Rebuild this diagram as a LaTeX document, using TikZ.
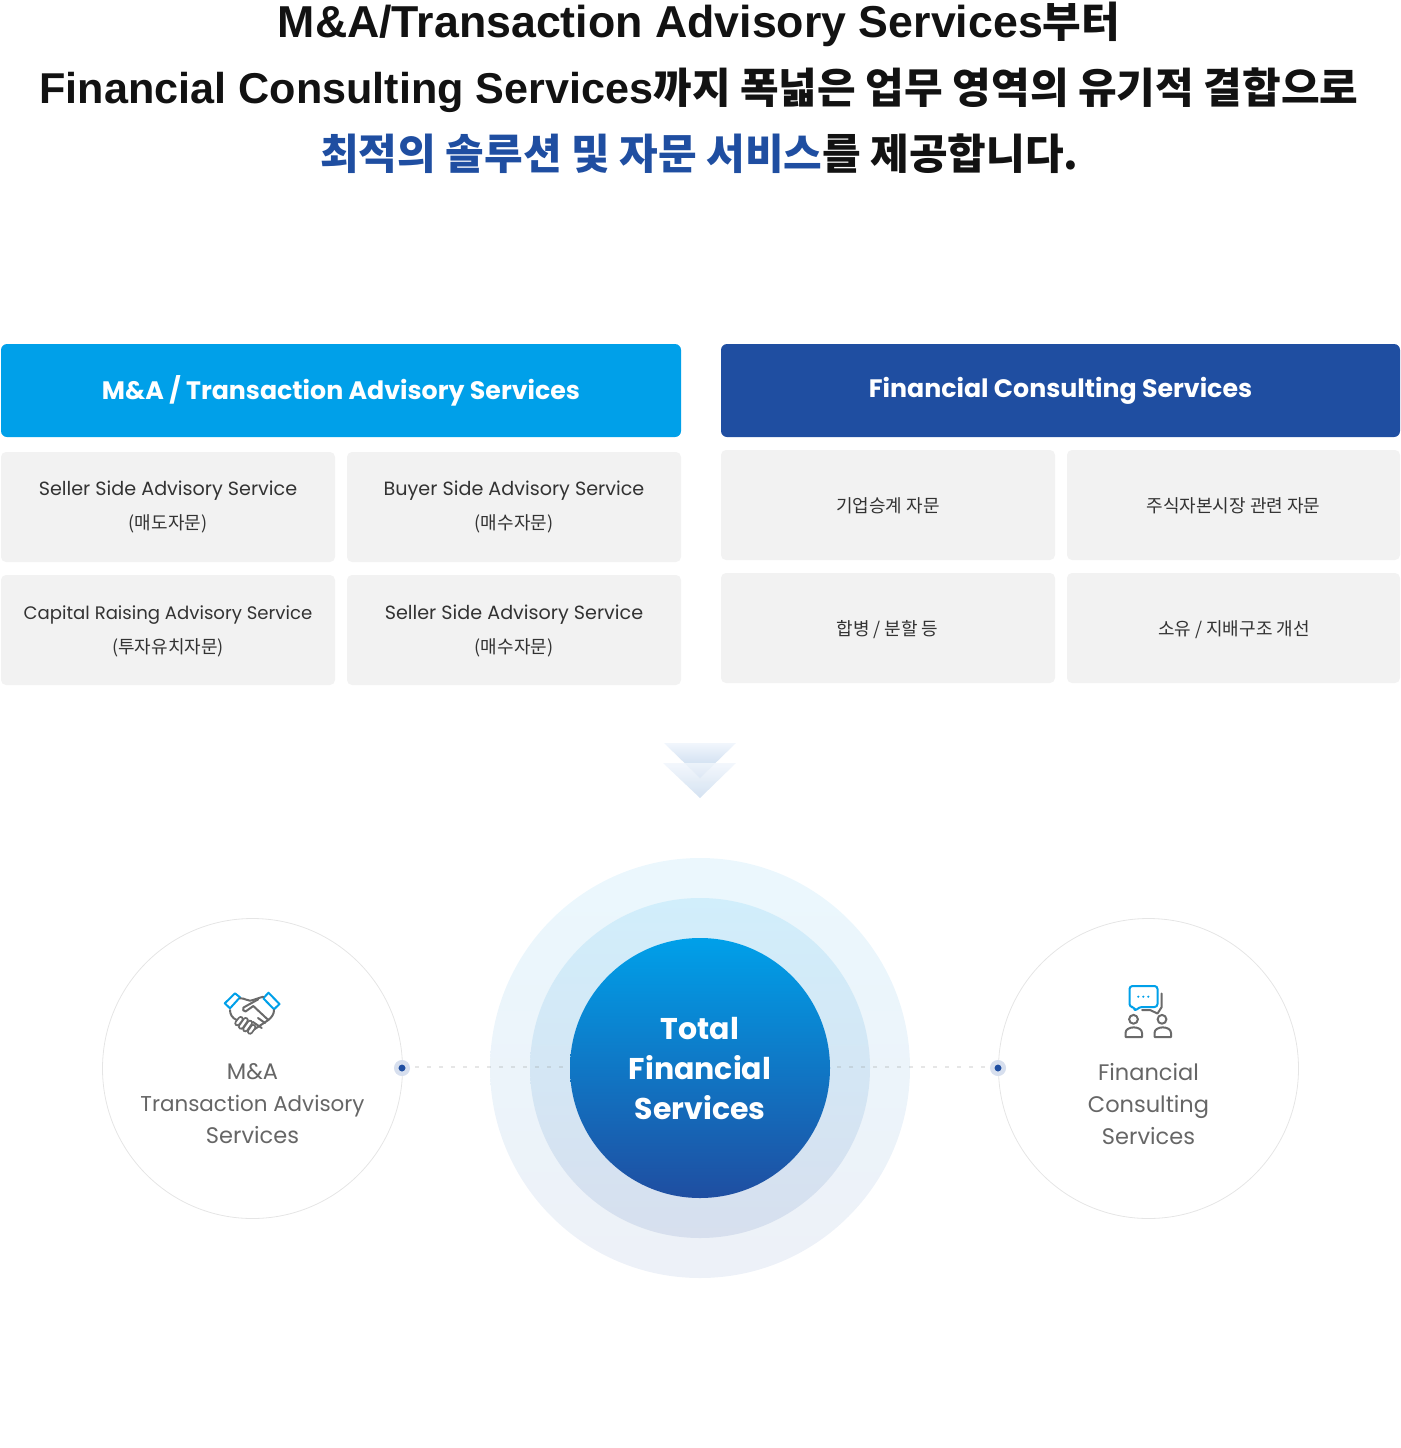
\documentclass[tikz,border=0pt]{standalone}
\usepackage{fontspec}
\setmainfont{Poppins}
\newfontfamily\ko{Noto Sans CJK KR}
\newfontfamily\ttl{Liberation Sans}
\usetikzlibrary{shapes.geometric}
\definecolor{cyanb}{HTML}{00A0E9}
\definecolor{navyb}{HTML}{1F4EA1}
\definecolor{cellg}{HTML}{F2F2F2}
\definecolor{inkt}{HTML}{333333}
\definecolor{greyt}{HTML}{666666}
\definecolor{icong}{HTML}{6A6A6A}
\definecolor{chevt}{HTML}{F1F6FC}
\definecolor{chevb}{HTML}{BFD4EB}
\definecolor{chevc}{HTML}{CDDDEF}
\newcommand{\fs}[2]{\fontsize{#1}{#2}\selectfont}
\newcommand{\kot}[1]{{\ko\bfseries\fs{42}{44}#1}}
\newcommand{\lat}[2]{{\ttl\bfseries\fs{#1}{44}#2}}
\newcommand{\kos}[1]{{\ko\fs{18}{34}#1}}
\tikzset{
  x=1pt,y=-1pt,
  txt/.style={inner sep=0pt,align=center},
  ttlline/.style={txt,anchor=base,text=black!93},
  head/.style={txt,rounded corners=6pt,minimum height=93pt,text=white,font=\fs{25.25}{30}\bfseries},
  cell/.style={txt,rounded corners=5pt,fill=cellg,minimum height=110pt,minimum width=334pt},
  celltxt/.style={txt,text=inkt,font=\fs{19.15}{34}},
  koltxt/.style={txt,text=inkt,font=\fs{18}{34}\ko},
  bigc/.style={circle,inner sep=0pt,draw=black!10,line width=.8pt,minimum size=300pt},
  circtxt/.style={txt,text=greyt,font=\fs{22.5}{32}},
  dotn/.style={circle,inner sep=0pt,minimum size=11.5pt,fill=navyb,draw=navyb!18,line width=4.5pt},
  dotline/.style={line width=2pt,draw=black!45,opacity=.22,dash pattern=on 4pt off 8pt,shorten <=13pt,shorten >=5pt},
  iconb/.style={draw=cyanb,line width=2pt,line join=round,line cap=round},
  icons/.style={draw=icong,line width=2pt,line join=round,line cap=round},
}
\begin{document}
\begin{tikzpicture}
\useasboundingbox (0,0) rectangle (1400,1448);
% title
\node[ttlline] (t1) at (699,37) {\lat{44.7}{M\&A/Transaction Advisory Services}\kot{부터}};
\node[ttlline] (t2) at (699,103) {\lat{43.15}{Financial Consulting Services}\kot{까지 폭넓은 업무 영역의 유기적 결합으로}};
\node[ttlline] (t3) at (699.5,169) {\kot{\color{navyb}최적의 솔루션 및 자문 서비스}\kot{를 제공합니다.}};
% headers
\node[head,fill=cyanb,minimum width=680pt] (hl) at (341,390.5) {M\&A / Transaction Advisory Services};
\node[head,fill=navyb,minimum width=679pt] (hr) at (1060.5,390.5) {Financial Consulting Services};
% cells
\node[cell] (c1) at (168,507) {};
\node[cell] (c2) at (514,507) {};
\node[cell] (c3) at (168,630) {};
\node[cell] (c4) at (514,630) {};
\node[cell] (d1) at (888,505) {};
\node[cell,minimum width=333pt] (d2) at (1233.5,505) {};
\node[cell] (d3) at (888,628) {};
\node[cell,minimum width=333pt] (d4) at (1233.5,628) {};
\node[celltxt] (c1t) at (168,507) {Seller Side Advisory Service\\\kos{(매도자문)}};
\node[celltxt] (c2t) at (514,507) {Buyer Side Advisory Service\\\kos{(매수자문)}};
\node[celltxt,font=\fs{18.1}{34}] (c3t) at (168,631) {Capital Raising Advisory Service\\\kos{(투자유치자문)}};
\node[celltxt] (c4t) at (514,631) {Seller Side Advisory Service\\\kos{(매수자문)}};
\node[koltxt] (d1t) at (888,506) {기업승계 자문};
\node[koltxt] (d2t) at (1233.5,506) {주식자본시장 관련 자문};
\node[koltxt] (d3t) at (887.5,630) {합병 / 분할 등};
\node[koltxt] (d4t) at (1234,630) {소유 / 지배구조 개선};
% chevrons
\shade[top color=chevt,bottom color=chevb] (664,743) -- (736,743) -- (700,778) -- cycle;
\shade[top color=chevt,bottom color=chevc,opacity=.85] (663,763) -- (736,763) -- (700,798) -- cycle;
% rings
\node[circle,minimum size=420pt,inner sep=0pt,top color=cyanb!8,bottom color=navyb!8] (ro) at (700,1068) {};
\node[circle,minimum size=340pt,inner sep=0pt,top color=cyanb!18,bottom color=navyb!18] (rm) at (700,1068) {};
\node[circle,minimum size=260pt,inner sep=0pt,top color=cyanb,bottom color=navyb] (core) at (700,1068) {};
\node[txt,text=white,font=\fs{30}{40}\bfseries] (coret) at (700,1069) {Total\\Financial\\Services};
% side circles
\node[bigc] (cl) at (252.5,1068.5) {};
\node[bigc] (cr) at (1148.5,1068.5) {};
\node[circtxt] (ltext) at (252.5,1103.5) {M\&A\\{\fs{21.45}{32}Transaction Advisory}\\Services};
\node[circtxt] (rtext) at (1148.5,1104.5) {Financial\\Consulting\\Services};
% dots and connectors
\node[dotn] (dl) at (402,1068) {};
\node[dotn] (dr) at (998,1068) {};
\coordinate (cla) at (570,1067);
\coordinate (cra) at (830,1067);
\coordinate (dla) at (402,1067);
\coordinate (dra) at (998,1067);
\draw[dotline] (dla) -- (cla);
\draw[dotline] (dra) -- (cra);
% handshake icon
\draw[iconb] (235,993.3) -- (240,997.3) -- (230,1008.3) -- (224.8,1003.3) -- cycle;
\draw[iconb] (268.5,992.7) -- (279.5,1004) -- (274,1009.3) -- (263.3,998.3) -- cycle;
\draw[icons] (240,998.3) .. controls (245,998) and (247,1001) .. (250,1000.7) .. controls (254,1000) and (258,998) .. (263.3,996.7);
\draw[icons] (258.3,999.3) -- (243.5,1007.5) .. controls (242,1009) and (243.5,1012) .. (245.5,1011.5) -- (253.3,1006) -- (268.3,1020);
\draw[icons] (230,1010) .. controls (230,1014) and (232,1018) .. (236.7,1020);
\draw[icons] (274,1010) .. controls (274,1014) and (272,1017) .. (268.3,1020) -- (258.3,1026.7) -- (251,1031.5);
\draw[icons] (253,1022) -- (261.7,1028);
\draw[icons] (258,1018) -- (265,1023);
\foreach \a/\b/\c/\d in {237.3/1023.3/240.7/1019, 241/1026.7/245.7/1020, 245.3/1029.3/250/1022.7, 250/1031.7/253.3/1027}{
  \draw[draw=icong,line width=6pt,line cap=round] (\a,\b) -- (\c,\d);
}
\foreach \a/\b/\c/\d in {237.3/1023.3/240.7/1019, 241/1026.7/245.7/1020, 245.3/1029.3/250/1022.7, 250/1031.7/253.3/1027}{
  \draw[draw=white,line width=2.4pt,line cap=round] (\a,\b) -- (\c,\d);
}
% consulting icon
\draw[iconb,rounded corners=3pt] (1129.5,986) -- (1157.5,986) -- (1157.5,1007) -- (1139,1007) -- (1135,1011.5) -- (1134.5,1007) -- (1129.5,1007) -- cycle;
\fill[cyanb] (1138.3,996.7) circle (1.2pt) (1143.3,996.7) circle (1.2pt) (1148.3,996.7) circle (1.2pt);
\draw[icons] (1161.7,993.5) -- (1161.7,1007) -- (1157.5,1013.5) -- (1150,1010) -- (1142,1010);
\draw[icons] (1133.5,1019.3) circle (4.4pt);
\draw[icons] (1162,1019.3) circle (4.4pt);
\draw[icons] (1125.5,1037) -- (1125.5,1033) .. controls (1125.5,1025.5) and (1142,1025.5) .. (1142,1033) -- (1142,1037) -- cycle;
\draw[icons] (1154.5,1037) -- (1154.5,1033) .. controls (1154.5,1025.5) and (1171,1025.5) .. (1171,1033) -- (1171,1037) -- cycle;
\end{tikzpicture}
\end{document}
